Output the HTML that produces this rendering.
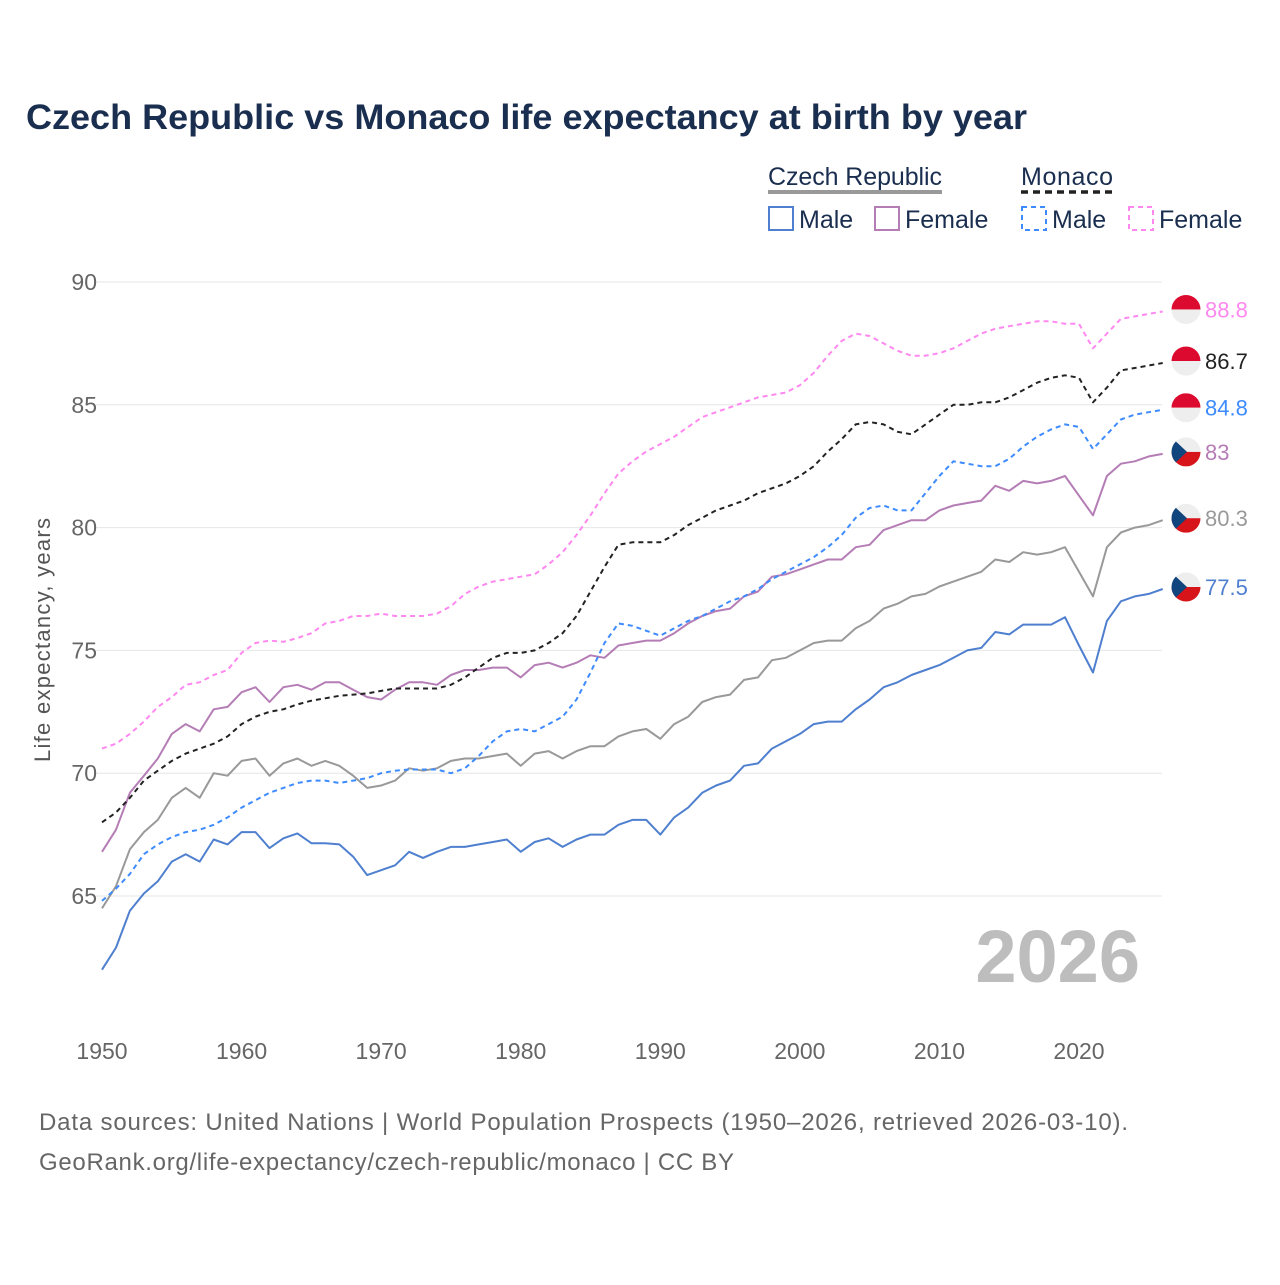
<!DOCTYPE html>
<html><head><meta charset="utf-8">
<style>
body{margin:0;background:#fff;width:1280px;height:1280px;overflow:hidden;font-family:"Liberation Sans",sans-serif;}
svg text{font-family:"Liberation Sans",sans-serif;}
</style></head>
<body>
<svg id="chart" width="1280" height="1280" viewBox="0 0 1280 1280" xmlns="http://www.w3.org/2000/svg">
<text x="26" y="129" font-size="35" font-weight="bold" fill="#1a2e4f" textLength="1001" lengthAdjust="spacingAndGlyphs">Czech Republic vs Monaco life expectancy at birth by year</text>
<g font-size="25" fill="#1a2e4f">
<text x="768" y="185" textLength="174">Czech Republic</text>
<line x1="768" y1="192" x2="942" y2="192" stroke="#999" stroke-width="4"/>
<text x="1021" y="185" textLength="92">Monaco</text>
<line x1="1021" y1="192" x2="1113" y2="192" stroke="#222" stroke-width="3.5" stroke-dasharray="7,5"/>
<rect x="769" y="207" width="24" height="23" fill="none" stroke="#4f7fcf" stroke-width="2"/>
<text x="799" y="228">Male</text>
<rect x="875" y="207" width="24" height="23" fill="none" stroke="#b57db5" stroke-width="2"/>
<text x="905" y="228">Female</text>
<rect x="1022" y="207" width="24" height="23" fill="none" stroke="#3d8bff" stroke-width="2" stroke-dasharray="5,4"/>
<text x="1052" y="228">Male</text>
<rect x="1129" y="207" width="24" height="23" fill="none" stroke="#ff88f0" stroke-width="2" stroke-dasharray="5,4"/>
<text x="1159" y="228">Female</text>
</g>
<text transform="translate(50,640) rotate(-90)" text-anchor="middle" font-size="22" fill="#555" textLength="244">Life expectancy, years</text>
<text x="1140" y="982" text-anchor="end" font-size="74" font-weight="bold" fill="#bdbdbd">2026</text>
<g id="grid"></g><g id="xt"></g><g id="series"></g><g id="ends"></g>
<text x="39" y="1130" font-size="24" fill="#666" textLength="1089">Data sources: United Nations | World Population Prospects (1950–2026, retrieved 2026-03-10).</text>
<text x="39" y="1170" font-size="24" fill="#666" textLength="695">GeoRank.org/life-expectancy/czech-republic/monaco | CC BY</text>
</svg>
<script>
const years = []; for (let y = 1950; y <= 2026; y++) years.push(y);
const yTicks = [65, 70, 75, 80, 85, 90];
const xTicks = [1950, 1960, 1970, 1980, 1990, 2000, 2010, 2020];
const czMale = [62.0,62.9,64.4,65.1,65.6,66.4,66.7,66.4,67.3,67.1,67.6,67.6,66.95,67.35,67.55,67.15,67.15,67.1,66.6,65.85,66.05,66.25,66.8,66.55,66.8,67.0,67.0,67.1,67.2,67.3,66.8,67.2,67.35,67.0,67.3,67.5,67.5,67.9,68.1,68.1,67.5,68.2,68.6,69.2,69.5,69.7,70.3,70.4,71.0,71.3,71.6,72.0,72.1,72.1,72.6,73.0,73.5,73.7,74.0,74.2,74.4,74.7,75.0,75.1,75.75,75.65,76.05,76.05,76.05,76.35,75.2,74.1,76.2,77.0,77.2,77.3,77.5];
const czTotal = [64.5,65.4,66.9,67.6,68.1,69.0,69.4,69.0,70.0,69.9,70.5,70.6,69.9,70.4,70.6,70.3,70.5,70.3,69.9,69.4,69.5,69.7,70.2,70.1,70.2,70.5,70.6,70.6,70.7,70.8,70.3,70.8,70.9,70.6,70.9,71.1,71.1,71.5,71.7,71.8,71.4,72.0,72.3,72.9,73.1,73.2,73.8,73.9,74.6,74.7,75.0,75.3,75.4,75.4,75.9,76.2,76.7,76.9,77.2,77.3,77.6,77.8,78.0,78.2,78.7,78.6,79.0,78.9,79.0,79.2,78.2,77.2,79.2,79.8,80.0,80.1,80.3];
const czFemale = [66.8,67.7,69.2,69.9,70.6,71.6,72.0,71.7,72.6,72.7,73.3,73.5,72.9,73.5,73.6,73.4,73.7,73.7,73.4,73.1,73.0,73.4,73.7,73.7,73.6,74.0,74.2,74.2,74.3,74.3,73.9,74.4,74.5,74.3,74.5,74.8,74.7,75.2,75.3,75.4,75.4,75.7,76.1,76.4,76.6,76.7,77.2,77.4,78.0,78.1,78.3,78.5,78.7,78.7,79.2,79.3,79.9,80.1,80.3,80.3,80.7,80.9,81.0,81.1,81.7,81.5,81.9,81.8,81.9,82.1,81.3,80.5,82.1,82.6,82.7,82.9,83.0];
const mcTotal = [68.0,68.4,69.0,69.7,70.1,70.5,70.8,71.0,71.2,71.5,72.0,72.3,72.5,72.6,72.8,72.95,73.05,73.15,73.2,73.25,73.35,73.45,73.45,73.45,73.45,73.6,73.9,74.3,74.7,74.9,74.9,75.0,75.3,75.7,76.4,77.4,78.4,79.3,79.4,79.4,79.4,79.7,80.1,80.4,80.7,80.9,81.1,81.4,81.6,81.8,82.1,82.5,83.1,83.6,84.2,84.3,84.2,83.9,83.8,84.2,84.6,85.0,85.0,85.1,85.1,85.3,85.6,85.9,86.1,86.2,86.1,85.1,85.7,86.4,86.5,86.6,86.7];
const mcMale = [64.8,65.3,65.9,66.7,67.1,67.4,67.6,67.7,67.9,68.2,68.6,68.9,69.2,69.4,69.6,69.7,69.7,69.6,69.7,69.8,70.0,70.1,70.15,70.15,70.15,70.0,70.2,70.7,71.3,71.7,71.8,71.7,72.0,72.3,73.0,74.1,75.3,76.1,76.0,75.8,75.6,75.9,76.2,76.4,76.7,77.0,77.2,77.5,77.9,78.2,78.5,78.8,79.2,79.7,80.4,80.8,80.9,80.7,80.7,81.4,82.1,82.7,82.6,82.5,82.5,82.8,83.3,83.7,84.0,84.2,84.1,83.2,83.8,84.4,84.6,84.7,84.8];
const mcFemale = [71.0,71.2,71.6,72.1,72.7,73.1,73.6,73.7,74.0,74.2,74.9,75.3,75.4,75.35,75.5,75.7,76.1,76.2,76.4,76.4,76.5,76.4,76.4,76.4,76.5,76.8,77.3,77.6,77.8,77.9,78.0,78.1,78.5,79.0,79.7,80.5,81.4,82.2,82.7,83.1,83.4,83.7,84.1,84.5,84.7,84.9,85.1,85.3,85.4,85.5,85.8,86.3,87.0,87.6,87.9,87.8,87.5,87.2,87.0,87.0,87.1,87.3,87.6,87.9,88.1,88.2,88.3,88.4,88.4,88.3,88.3,87.3,87.9,88.5,88.6,88.7,88.8];

const NS = "http://www.w3.org/2000/svg";
const X0 = 102, XPY = 977/70, Y90 = 282, YPU = 614/25;
const xs = y => X0 + (y - 1950) * XPY;
const ys = v => Y90 + (90 - v) * YPU;
function mk(tag, attrs, parent){const e=document.createElementNS(NS,tag);for(const k in attrs)e.setAttribute(k,attrs[k]);parent.appendChild(e);return e;}
const grid = document.getElementById('grid');
yTicks.forEach(t=>{
  const l = mk('line',{x1:96,x2:1162,y1:ys(t),y2:ys(t),stroke:'#e6e6e6','stroke-width':1},grid);
  
  
  const tx = mk('text',{x:97,y:ys(t)+8,'text-anchor':'end','font-size':23,fill:'#666'},grid);
  tx.textContent = t;
  
  
});
const xt = document.getElementById('xt');
xTicks.forEach(t=>{
  const tx = mk('text',{x:xs(t),y:1059,'text-anchor':'middle','font-size':23,fill:'#666'},xt);
  tx.textContent = t;
  
  
});
const seriesList = [
  {name:'czech-male',d:czMale,c:'#4f7fcf',dash:null,flag:'cz',lc:'#4f7fcf'},
  {name:'czech-total',d:czTotal,c:'#999999',dash:null,flag:'cz',lc:'#999'},
  {name:'czech-female',d:czFemale,c:'#b57db5',dash:null,flag:'cz',lc:'#b57db5'},
  {name:'monaco-male',d:mcMale,c:'#3d8bff',dash:'5,4',flag:'mc',lc:'#3d8bff'},
  {name:'monaco-total',d:mcTotal,c:'#222222',dash:'5,4',flag:'mc',lc:'#222'},
  {name:'monaco-female',d:mcFemale,c:'#ff88f0',dash:'5,4',flag:'mc',lc:'#ff88f0'}
];
const sg = document.getElementById('series'), eg = document.getElementById('ends');
seriesList.forEach(s=>{
  const pts = s.d.map((v,i)=>xs(years[i]).toFixed(1)+','+ys(v).toFixed(1)).join(' ');
  const p = mk('polyline',{points:pts,fill:'none',stroke:s.c,'stroke-width':2,'stroke-linejoin':'round'},sg);
  if(s.dash) p.setAttribute('stroke-dasharray',s.dash);
  
  
  const last = s.d[s.d.length-1];
  const cx = 1186, cy = ys(last) - 2, r = 14.5;
  const g = mk('g',{},eg);
  
  
  const id = 'clip-'+s.name;
  const cp = mk('clipPath',{id:id},g); mk('circle',{cx:cx,cy:cy,r:r},cp);
  const inner = mk('g',{'clip-path':'url(#'+id+')'},g);
  if(s.flag==='mc'){
    mk('rect',{x:cx-r,y:cy-r,width:2*r,height:r,fill:'#dc0a2e'},inner);
    mk('rect',{x:cx-r,y:cy,width:2*r,height:r,fill:'#eeeeee'},inner);
  } else {
    mk('rect',{x:cx-r,y:cy-r,width:2*r,height:r,fill:'#eeeeee'},inner);
    mk('rect',{x:cx-r,y:cy,width:2*r,height:r,fill:'#d7141a'},inner);
    mk('polygon',{points:(cx-r)+','+(cy-r)+' '+(cx+1)+','+cy+' '+(cx-r)+','+(cy+r),fill:'#11457e'},inner);
  }
  const t = mk('text',{x:1205,y:cy+8,'font-size':22,fill:s.lc},eg);
  t.textContent = String(last);
  
  
});
</script>
</body></html>
